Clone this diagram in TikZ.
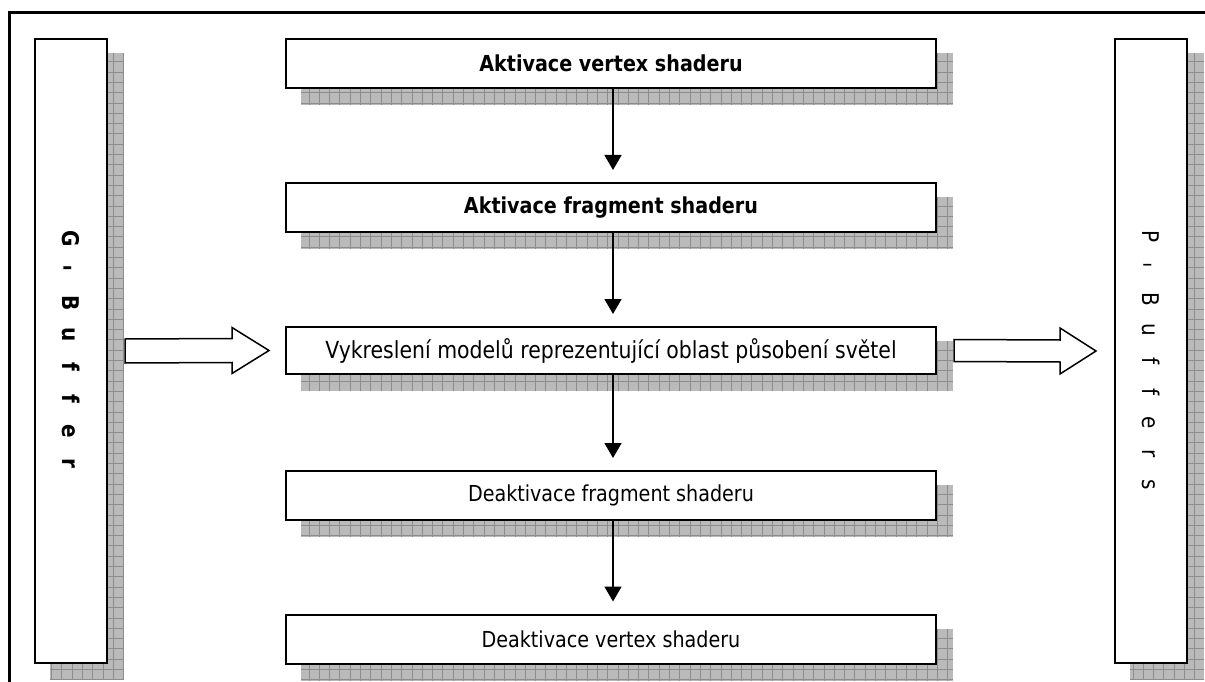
\documentclass[tikz,border=0pt]{standalone}
\usepackage{fontspec}
\setmainfont{DejaVu Sans}[FakeStretch=0.87]
\usetikzlibrary{arrows.meta,calc,backgrounds}
\definecolor{shadowgray}{RGB}{186,186,186}
\definecolor{gridgray}{RGB}{140,140,140}
\newcommand\vslot[1]{\makebox[32pt]{#1}}
\newcommand\wslot[1]{\makebox[31pt]{#1}}
\newcommand\shadowof[1]{%
  \path ($(#1.north west)+(16,15)$) coordinate (sa) ($(#1.south east)+(16,16)$) coordinate (sb);
  \fill[shadowgray] (sa) rectangle (sb);
  \begin{scope}
    \clip (sa) rectangle (sb);
    \draw[shadowgrid, step=10.3pt] (sa |- sb) grid (sb |- sa);
  \end{scope}}
\begin{document}
\begin{tikzpicture}[x=1pt,y=-1pt,
  box/.style={draw=black, line width=2pt, fill=white, minimum width=650pt, minimum height=49pt, inner sep=0pt, font=\fontsize{22}{26}\selectfont},
  sidebox/.style={draw=black, line width=2pt, fill=white, minimum width=72pt, minimum height=624pt, inner sep=0pt},
  flow/.style={line width=1.5pt, -{Triangle[length=15pt,width=17pt]}, shorten >=12pt},
  hollow/.style={draw=black, line width=1.5pt, fill=white, line join=miter},
  shadowgrid/.style={draw=gridgray, line width=0.9pt},
  frame/.style={draw=black, line width=3pt}
]
\useasboundingbox (0,0) rectangle (1205,682);

% outer frame
\draw[frame] (9,690) -- (9,13) -- (1210,13);

% side boxes
\node[sidebox] (gb) at (71,351) {};
\node[sidebox] (pb) at (1151,351) {};
\node[rotate=-90, font=\fontsize{23}{27}\selectfont\bfseries] (gbt) at (gb.center)
  {\vslot{G}\vslot{\rotatebox{90}{–}}\vslot{B}\vslot{u}\vslot{f}\vslot{f}\vslot{e}\vslot{r}};
\node[rotate=-90, font=\fontsize{23}{27}\selectfont] (pbt) at ($(pb.center)+(0,10)$)
  {\wslot{P}\wslot{\rotatebox{90}{–}}\wslot{B}\wslot{u}\wslot{f}\wslot{f}\wslot{e}\wslot{r}\wslot{s}};

% central boxes
\node[box, font=\fontsize{22}{26}\selectfont\bfseries] (avs) at (611,63.5) {Aktivace vertex shaderu};
\node[box, font=\fontsize{22}{26}\selectfont\bfseries] (afs) at (611,207.5) {Aktivace fragment shaderu};
\node[box, minimum height=47pt, font=\fontsize{23.5}{28}\selectfont] (render) at (611,350.5) {Vykreslení modelů reprezentující oblast působení světel};
\node[box] (dfs) at (611,495.5) {Deaktivace fragment shaderu};
\node[box] (dvs) at (611,639) {Deaktivace vertex shaderu};

% shadows
\begin{scope}[on background layer]
  \shadowof{gb}
  \shadowof{pb}
  \shadowof{avs}
  \shadowof{afs}
  \shadowof{render}
  \shadowof{dfs}
  \shadowof{dvs}
\end{scope}

% vertical flow arrows
\draw[flow] ($(avs.south)+(2,0)$) -- ($(afs.north)+(2,0)$);
\draw[flow] ($(afs.south)+(2,0)$) -- ($(render.north)+(2,0)$);
\draw[flow] ($(render.south)+(2,0)$) -- ($(dfs.north)+(2,0)$);
\draw[flow] ($(dfs.south)+(2,0)$) -- ($(dvs.north)+(2,0)$);

% hollow arrows
\coordinate (l1) at ($(gb.east)+(17,0)$);
\coordinate (l2) at ($(render.west)+(-16,0)$);
\draw[hollow] ($(l1)+(0,-12)$) -- ($(l2)+(-37,-12)$) -- ($(l2)+(-37,-23)$) -- (l2)
  -- ($(l2)+(-37,23)$) -- ($(l2)+(-37,12)$) -- ($(l1)+(0,12)$) -- cycle;
\coordinate (r1) at ($(render.east)+(17,0)$);
\coordinate (r2) at ($(pb.west)+(-18,0)$);
\draw[hollow] ($(r1)+(0,-11)$) -- ($(r2)+(-36,-11)$) -- ($(r2)+(-36,-23)$) -- (r2)
  -- ($(r2)+(-36,23)$) -- ($(r2)+(-36,11)$) -- ($(r1)+(0,11)$) -- cycle;
\end{tikzpicture}
\end{document}
